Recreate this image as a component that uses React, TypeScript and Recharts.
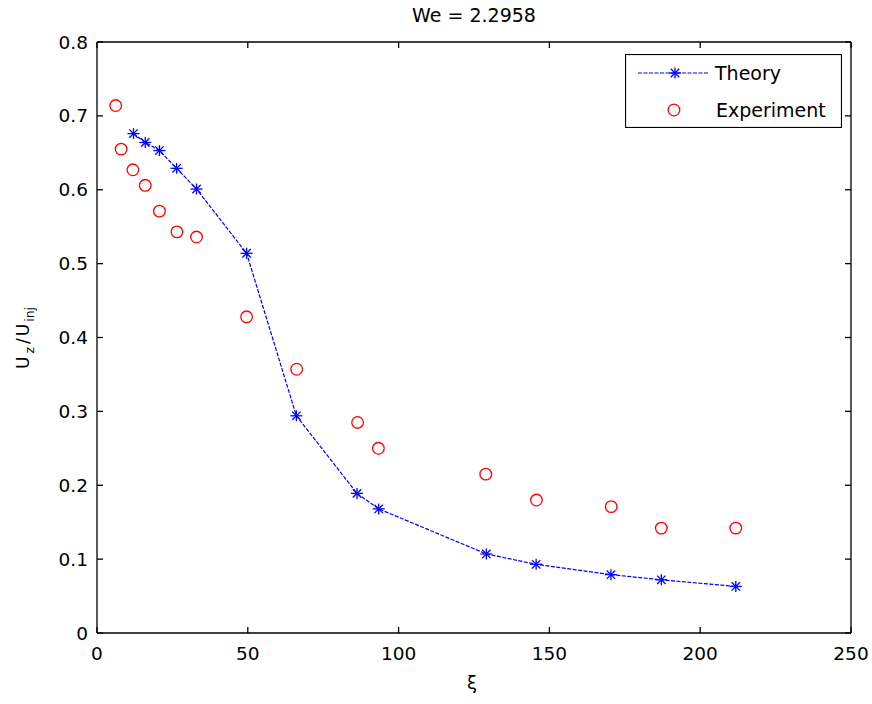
import React from 'react';
import { ComposedChart, Line, Scatter, XAxis, YAxis, Legend, ReferenceLine } from 'recharts';

// ---- data ----
const xiTheory = [12.1, 16.0, 20.7, 26.4, 33.0, 49.6, 66.1, 86.2, 93.4, 129.1, 145.6, 170.4, 187.1, 211.8];
const uTheory = [0.676, 0.664, 0.653, 0.629, 0.601, 0.514, 0.294, 0.189, 0.168, 0.107, 0.093, 0.079, 0.072, 0.063];
const xiExp = [6.2, 8.0, 11.9, 16.0, 20.7, 26.5, 33.0, 49.6, 66.2, 86.4, 93.3, 128.9, 145.7, 170.5, 187.1, 211.8];
const uExp = [0.714, 0.655, 0.627, 0.606, 0.571, 0.543, 0.536, 0.428, 0.357, 0.285, 0.25, 0.215, 0.18, 0.171, 0.142, 0.142];
const xTicks = [0, 50, 100, 150, 200, 250];
const yTicks = [0, 0.1, 0.2, 0.3, 0.4, 0.5, 0.6, 0.7, 0.8];
const yTickLabels = ['0', '0.1', '0.2', '0.3', '0.4', '0.5', '0.6', '0.7', '0.8'];
const titleText = 'We = 2.2958';
const xLabelText = 'ξ';
const yLabelParts = ['U', 'z', '/', 'U', 'inj'];
const seriesNames = ['Theory', 'Experiment'];

const theoryData = xiTheory.map((x, i) => ({ x, y: uTheory[i] }));
const expData = xiExp.map((x, i) => ({ x, y: uExp[i] }));

const FONT = '"DejaVu Sans", sans-serif';
const BLUE = '#0000FF';
const RED = '#FF0000';

// layout constants
const W = 872;
const H = 704;
const M_TOP = 42;
const M_RIGHT = 21;
const Y_AXIS_W = 97;
const X_AXIS_H = 71;
const PLOT_LEFT = Y_AXIS_W;
const PLOT_RIGHT = W - M_RIGHT;
const PLOT_TOP = M_TOP;
const PLOT_BOTTOM = H - X_AXIS_H;
const TICK_LEN = 6;

function Star({ cx, cy }: { cx: number; cy: number }) {
  const a = 6, b = 5.5, d = 4.2;
  return (
    <g stroke={BLUE} strokeWidth={1.3} fill="none">
      <line x1={cx - a} y1={cy} x2={cx + a} y2={cy} />
      <line x1={cx} y1={cy - b} x2={cx} y2={cy + b} />
      <line x1={cx - d} y1={cy - d} x2={cx + d} y2={cy + d} />
      <line x1={cx - d} y1={cy + d} x2={cx + d} y2={cy - d} />
    </g>
  );
}

const starDot = (props: any) => {
  const { cx, cy, index } = props;
  if (cx == null || cy == null) return <g key={`s${index}`} />;
  return <g key={`s${index}`}><Star cx={cx} cy={cy} /></g>;
};

const circleShape = (props: any) => {
  const { cx, cy } = props;
  if (cx == null || cy == null) return <g />;
  return <circle cx={cx} cy={cy} r={5.8} fill="none" stroke={RED} strokeWidth={1.3} />;
};

const LegendBox = () => (
  <svg width={217} height={74} style={{ display: 'block' }}>
    <rect x={0.5} y={0.5} width={216} height={73} fill="#fff" stroke="#000" strokeWidth={1.2} />
    <line x1={13} y1={19} x2={84} y2={19} stroke={BLUE} strokeWidth={1.2} strokeDasharray="4 1.5" />
    <Star cx={50} cy={19} />
    <text x={90} y={26} fontFamily={FONT} fontSize={19} fill="#000">{seriesNames[0]}</text>
    <circle cx={49} cy={56} r={5.8} fill="none" stroke={RED} strokeWidth={1.3} />
    <text x={91} y={63} fontFamily={FONT} fontSize={19} fill="#000">{seriesNames[1]}</text>
  </svg>
);

const XTick = (props: any) => {
  const { x, y, payload } = props;
  return (
    <g>
      <line x1={x} y1={PLOT_BOTTOM} x2={x} y2={PLOT_BOTTOM - TICK_LEN} stroke="#000" strokeWidth={1.3} />
      <line x1={x} y1={PLOT_TOP} x2={x} y2={PLOT_TOP + TICK_LEN} stroke="#000" strokeWidth={1.3} />
      <text x={x} y={y} dy="0.71em" textAnchor="middle" fontFamily={FONT} fontSize={18.5} fill="#000">
        {String(payload.value)}
      </text>
    </g>
  );
};

const YTick = (props: any) => {
  const { x, y, payload } = props;
  const idx = yTicks.indexOf(payload.value);
  return (
    <g>
      <line x1={PLOT_LEFT} y1={y} x2={PLOT_LEFT + TICK_LEN} y2={y} stroke="#000" strokeWidth={1.3} />
      <line x1={PLOT_RIGHT} y1={y} x2={PLOT_RIGHT - TICK_LEN} y2={y} stroke="#000" strokeWidth={1.3} />
      <text x={x} y={y} dy="0.355em" textAnchor="end" fontFamily={FONT} fontSize={18.5} fill="#000">
        {idx >= 0 ? yTickLabels[idx] : String(payload.value)}
      </text>
    </g>
  );
};

const AllLabels = () => {
  const cxPlot = (PLOT_LEFT + PLOT_RIGHT) / 2;
  return (
    <g>
      <text x={cxPlot - 2} y={PLOT_BOTTOM + 56} textAnchor="middle" fontFamily={FONT} fontSize={18} fill="#000">{xLabelText}</text>
      <text x={cxPlot} y={PLOT_TOP - 20.5} textAnchor="middle" fontFamily={FONT} fontSize={19} fill="#000">{titleText}</text>
    </g>
  );
};

const YLabel = () => {
  const cx = 23;
  const cy = (PLOT_TOP + PLOT_BOTTOM) / 2;
  const w = 120;
  const h = 20;
  const sub: React.CSSProperties = { fontSize: 12.5, position: 'relative', top: 5 };
  return (
    <div
      style={{
        position: 'absolute',
        left: cx - w / 2,
        top: cy - h / 2,
        width: w,
        height: h,
        lineHeight: `${h}px`,
        textAlign: 'center',
        fontFamily: FONT,
        fontSize: 17,
        color: '#000',
        whiteSpace: 'nowrap',
        transform: 'rotate(-90deg)',
        transformOrigin: '50% 50%',
        pointerEvents: 'none',
      }}
    >
      <span>{yLabelParts[0]}</span>
      <span style={{ ...sub, marginLeft: 3, marginRight: 3 }}>{yLabelParts[1]}</span>
      <span style={{ marginRight: 2 }}>{yLabelParts[2]}</span>
      <span>{yLabelParts[3]}</span>
      <span style={{ ...sub, marginLeft: 2 }}>{yLabelParts[4]}</span>
    </div>
  );
};

export default function App() {
  return (
    <div style={{ position: 'absolute', left: 0, top: 0, width: W, height: H, background: '#fff' }}>
      <ComposedChart width={W} height={H} margin={{ top: M_TOP, right: M_RIGHT, bottom: 0, left: 0 }}>
        <XAxis
          dataKey="x"
          type="number"
          domain={[0, 250]}
          ticks={xTicks}
          allowDataOverflow
          height={X_AXIS_H}
          stroke="#000"
          strokeWidth={1.3}
          tickLine={false}
          tickSize={0}
          tickMargin={14}
          tick={<XTick />}
          label={{ content: () => <AllLabels /> }}
        />
        <YAxis
          type="number"
          domain={[0, 0.8]}
          ticks={yTicks}
          allowDataOverflow
          width={Y_AXIS_W}
          stroke="#000"
          strokeWidth={1.3}
          tickLine={false}
          tickSize={0}
          tickMargin={9}
          tick={<YTick />}
        />
        <ReferenceLine y={0.8} stroke="#000" strokeWidth={1.3} />
        <ReferenceLine x={250} stroke="#000" strokeWidth={1.3} />
        <Legend
          layout="vertical"
          align="center"
          verticalAlign="middle"
          content={() => <LegendBox />}
          wrapperStyle={{ position: 'absolute', left: 625, top: 54, width: 217, height: 74 }}
        />
        <Line
          data={theoryData}
          dataKey="y"
          name={seriesNames[0]}
          type="linear"
          stroke={BLUE}
          strokeWidth={1.2}
          strokeDasharray="4 1.5"
          dot={starDot}
          activeDot={false}
          isAnimationActive={false}
        />
        <Scatter
          data={expData}
          dataKey="y"
          name={seriesNames[1]}
          shape={circleShape}
          isAnimationActive={false}
        />
      </ComposedChart>
      <YLabel />
    </div>
  );
}
